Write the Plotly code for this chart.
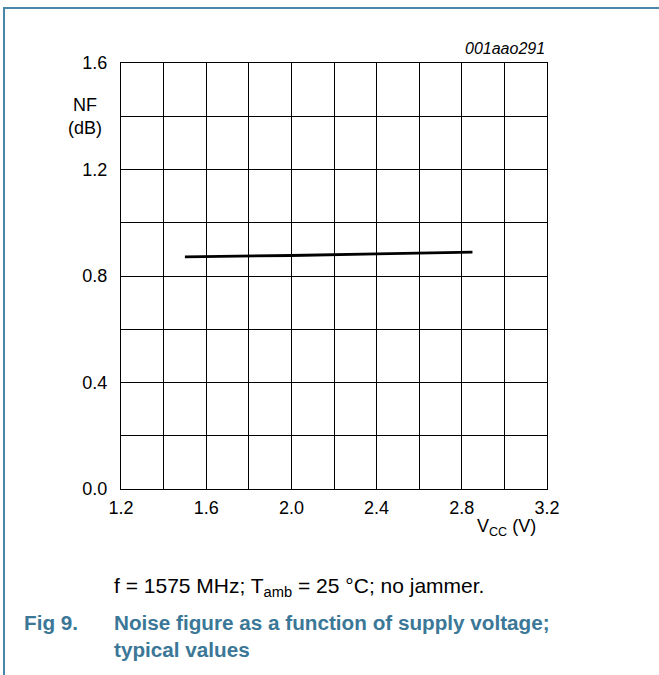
import plotly.graph_objects as go

vcc = [1.5, 1.8, 2.0, 2.4, 2.85]
nf = [0.872, 0.874, 0.877, 0.883, 0.890]
x_ticks = [1.2, 1.6, 2.0, 2.4, 2.8, 3.2]
y_ticks = [0.0, 0.4, 0.8, 1.2, 1.6]

W, H = 659, 675
L, R, T, B = 121, 547, 63, 489

def px(x):
    return (x - L) / (R - L)

def py(y):
    return (B - y) / (B - T)

fig = go.Figure()
fig.add_trace(go.Scatter(x=vcc, y=nf, mode="lines",
                         line=dict(color="black", width=2.8), showlegend=False))

FAM = "Liberation Sans, Arial, sans-serif"
font = dict(family=FAM, size=18, color="black")
axis_common = dict(showline=True, linecolor="black", linewidth=1, mirror=True,
                   showgrid=True, gridcolor="black", gridwidth=1, zeroline=False,
                   ticks="", tickfont=font, tickformat=".1f", fixedrange=True)

fig.update_xaxes(range=[1.2, 3.2], tickvals=x_ticks,
                 minor=dict(dtick=0.2, tick0=1.2, showgrid=True, gridcolor="black", gridwidth=1),
                 ticklabelstandoff=2, **axis_common)
fig.update_yaxes(range=[0.0, 1.6], tickvals=y_ticks,
                 minor=dict(dtick=0.2, tick0=0.0, showgrid=True, gridcolor="black", gridwidth=1),
                 ticklabelstandoff=9, **axis_common)

blue = "#3b7797"
border = "#4a86a8"
shapes = [
    dict(type="line", xref="paper", yref="paper", x0=px(3), x1=px(659), y0=py(8), y1=py(8),
         line=dict(color=border, width=2)),
    dict(type="line", xref="paper", yref="paper", x0=px(4), x1=px(4), y0=py(8), y1=py(675),
         line=dict(color=border, width=2)),
]

ann = []
def add(text, x, y, xanchor="left", yanchor="middle", size=18, color="black", bold=False, italic=False):
    f = dict(family=FAM, size=size, color=color)
    if italic:
        f["style"] = "italic"
    if bold:
        f["weight"] = "bold"
    ann.append(dict(text=text, x=px(x), y=py(y), xref="paper", yref="paper",
                    xanchor=xanchor, yanchor=yanchor, showarrow=False, font=f))

add("001aao291", 547, 48, xanchor="right", italic=True, size=16)
add("NF", 85, 105, xanchor="center")
add("(dB)", 85, 128, xanchor="center")
add("V<sub>CC</sub> (V)", 506, 527, xanchor="center")
add("f = 1575 MHz; T<sub>amb</sub> = 25 °C; no jammer.", 112, 587, size=21)
add("Fig 9.", 22, 622, size=20.7, color=blue, bold=True)
add("Noise figure as a function of supply voltage;", 112, 622, size=20.7, color=blue, bold=True)
add("typical values", 112, 649, size=20.7, color=blue, bold=True)

fig.update_layout(width=W, height=H, autosize=False,
                  margin=dict(l=L, r=W - R, t=T, b=H - B, pad=0),
                  paper_bgcolor="white", plot_bgcolor="white",
                  shapes=shapes, annotations=ann, font=font)

fig.write_html("out.html", config={"displayModeBar": False},
               post_script="document.body.style.margin='0';")
